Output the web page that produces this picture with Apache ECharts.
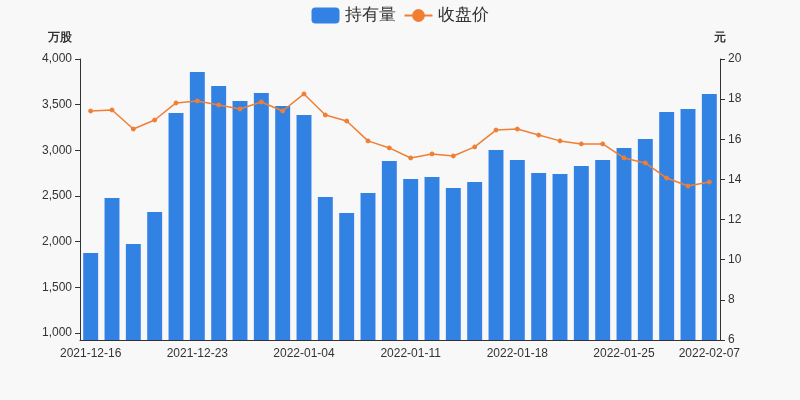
<!DOCTYPE html><html><head><meta charset="utf-8"><script src="https://cdn.jsdelivr.net/npm/echarts@6/dist/echarts.min.js"></script></head><body style="margin:0;background:#f8f8f8"><div id="c" style="width:800px;height:400px"></div><script>
const dates=['2021-12-16','2021-12-17','2021-12-20','2021-12-21','2021-12-22','2021-12-23','2021-12-24','2021-12-27','2021-12-28','2021-12-31','2022-01-04','2022-01-05','2022-01-06','2022-01-07','2022-01-10','2022-01-11','2022-01-12','2022-01-13','2022-01-14','2022-01-17','2022-01-18','2022-01-19','2022-01-20','2022-01-21','2022-01-24','2022-01-25','2022-01-26','2022-01-27','2022-01-28','2022-02-07'];
const holdings=[1876,2479,1975,2325,3410,3859,3705,3541,3629,3486,3388,2490,2314,2533,2884,2687,2709,2588,2654,3004,2895,2752,2741,2829,2895,3026,3125,3420,3453,3618];
const prices=[17.41,17.46,16.51,16.96,17.81,17.91,17.71,17.51,17.86,17.41,18.26,17.21,16.91,15.92,15.57,15.07,15.27,15.17,15.62,16.46,16.51,16.21,15.92,15.77,15.77,15.07,14.82,14.07,13.67,13.87];
const leftTicks=[1000,1500,2000,2500,3000,3500,4000];
// shift date labels so labelled categories match reference
const shown=[0,5,10,15,20,25,29];
const ch=echarts.init(document.getElementById('c'));
ch.setOption({backgroundColor:'#f8f8f8',
legend:{top:2,textStyle:{fontSize:17,color:'#333'},itemWidth:28,itemHeight:16,data:['持有量','收盘价']},
grid:{left:80,right:80,top:59,bottom:60},
xAxis:{type:'category',data:dates,axisTick:{show:false},axisLine:{lineStyle:{color:'#333'}},
 axisLabel:{color:'#333',fontSize:12,interval:(i)=>shown.includes(i)}},
yAxis:[{type:'value',name:'万股',nameTextStyle:{fontWeight:'bold',color:'#333',padding:[0,40,0,0]},min:923,max:4000,
 axisLabel:{color:'#333',customValues:leftTicks,formatter:v=>v.toLocaleString('en-US')},axisTick:{show:true,customValues:leftTicks},axisLine:{show:true,lineStyle:{color:'#333'}},splitLine:{show:false}},
 {type:'value',name:'元',nameTextStyle:{fontWeight:'bold',color:'#333',padding:[0,0,0,0]},min:6,max:20,interval:2,
 axisLabel:{color:'#333'},axisTick:{show:true},axisLine:{show:true,lineStyle:{color:'#333'}},splitLine:{show:false}}],
series:[{name:'持有量',type:'bar',data:holdings,barWidth:'70%',itemStyle:{color:'#3282e4'}},
{name:'收盘价',type:'line',yAxisIndex:1,data:prices,symbol:'circle',symbolSize:4,itemStyle:{color:'#f07f34',borderColor:'#f07f34'},lineStyle:{width:1.5,color:'#f07f34'}}]});
</script></body></html>
